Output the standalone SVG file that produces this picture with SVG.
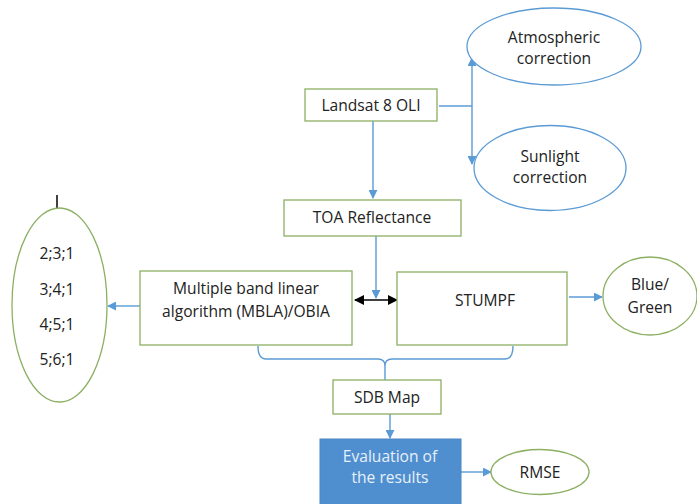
<svg xmlns="http://www.w3.org/2000/svg" width="697" height="504" viewBox="0 0 697 504">
<defs>
<style>
.box{fill:#fff;stroke:#8cb063;stroke-width:1.3}
.ellg{fill:#fff;stroke:#8cb063;stroke-width:1.3}
.ellb{fill:#fff;stroke:#5b9bd5;stroke-width:1.3}
.eval{fill:#4f8fcf;stroke:#4a86c4;stroke-width:1}
.t{font-family:"Open Sans","Liberation Sans",sans-serif;font-size:15.6px;fill:#222;text-anchor:middle}
.tw{fill:#e8f0fa}
.ln{fill:none;stroke:#5b9bd5;stroke-width:1.4}
.blk{fill:none;stroke:#000;stroke-width:1.5}
</style>
<marker id="ab" viewBox="0 0 10 10" refX="9" refY="5" markerWidth="9" markerHeight="9" markerUnits="userSpaceOnUse" orient="auto-start-reverse">
<path d="M0,0 L10,5 L0,10 z" fill="#5b9bd5"/>
</marker>
<marker id="ak" viewBox="0 0 10 10" refX="9" refY="5" markerWidth="10" markerHeight="10" markerUnits="userSpaceOnUse" orient="auto-start-reverse">
<path d="M0,0 L10,5 L0,10 z" fill="#000"/>
</marker>
</defs>
<rect width="697" height="504" fill="#fff"/>

<g id="connectors">
<path class="ln" d="M439,106 L472,106"/>
<path class="ln" d="M472,106 L472,58" marker-end="url(#ab)"/>
<path class="ln" d="M472,106 L472,164" marker-end="url(#ab)"/>
<path class="ln" d="M373,121 L373,198" marker-end="url(#ab)"/>
<path class="ln" d="M376,236 L376,298" marker-end="url(#ab)"/>
<path class="blk" d="M355,300 L397,300" marker-start="url(#ak)" marker-end="url(#ak)"/>
<path class="ln" d="M140,306 L108,306" marker-end="url(#ab)"/>
<path class="ln" d="M569,297 L602,297" marker-end="url(#ab)"/>
<path class="ln" d="M258,346 Q258,359 266,359 L378,359 Q385,359 385,366 Q385,359 392,359 L505,359 Q513,359 513,346"/>
<path class="ln" d="M385,366 L385,380"/>
<path class="ln" d="M390,414 L390,438" marker-end="url(#ab)"/>
<path class="ln" d="M461,472 L491,472" marker-end="url(#ab)"/>
<path class="blk" d="M57,195 L57,215"/>
</g>

<g id="landsat">
<rect class="box" x="305" y="89" width="132" height="32"/>
<text class="t" x="371" y="111">Landsat 8 OLI</text>
</g>
<g id="atmospheric">
<ellipse class="ellb" cx="554" cy="46.5" rx="87" ry="38.5"/>
<text class="t" x="554" y="43">Atmospheric</text>
<text class="t" x="554" y="64">correction</text>
</g>
<g id="sunlight">
<ellipse class="ellb" cx="550" cy="168" rx="76" ry="42.5"/>
<text class="t" x="550" y="162">Sunlight</text>
<text class="t" x="550" y="183">correction</text>
</g>
<g id="toa">
<rect class="box" x="284" y="200" width="177" height="36"/>
<text class="t" x="372" y="223">TOA Reflectance</text>
</g>
<g id="mbla">
<rect class="box" x="140" y="271" width="212" height="74"/>
<text class="t" x="246" y="294">Multiple band linear</text>
<text class="t" x="246" y="317">algorithm (MBLA)/OBIA</text>
</g>
<g id="combos">
<ellipse class="ellg" cx="59.5" cy="305" rx="47.5" ry="97"/>
<text class="t" x="57" y="259">2;3;1</text>
<text class="t" x="57" y="294.5">3;4;1</text>
<text class="t" x="57" y="330">4;5;1</text>
<text class="t" x="57" y="365">5;6;1</text>
</g>
<g id="stumpf">
<rect class="box" x="397" y="272" width="170" height="73"/>
<text class="t" x="485" y="306">STUMPF</text>
</g>
<g id="bluegreen">
<ellipse class="ellg" cx="650" cy="296" rx="47" ry="39"/>
<text class="t" x="650" y="290">Blue/</text>
<text class="t" x="650" y="313">Green</text>
</g>
<g id="sdb">
<rect class="box" x="333" y="380" width="108" height="34"/>
<text class="t" x="387" y="402.5">SDB Map</text>
</g>
<g id="evaluation">
<rect class="eval" x="320" y="439" width="141" height="70"/>
<text class="t tw" x="390" y="462">Evaluation of</text>
<text class="t tw" x="390" y="483">the results</text>
</g>
<g id="rmse">
<ellipse class="ellg" cx="540" cy="472" rx="49" ry="22.5"/>
<text class="t" x="540" y="477.5">RMSE</text>
</g>
</svg>
